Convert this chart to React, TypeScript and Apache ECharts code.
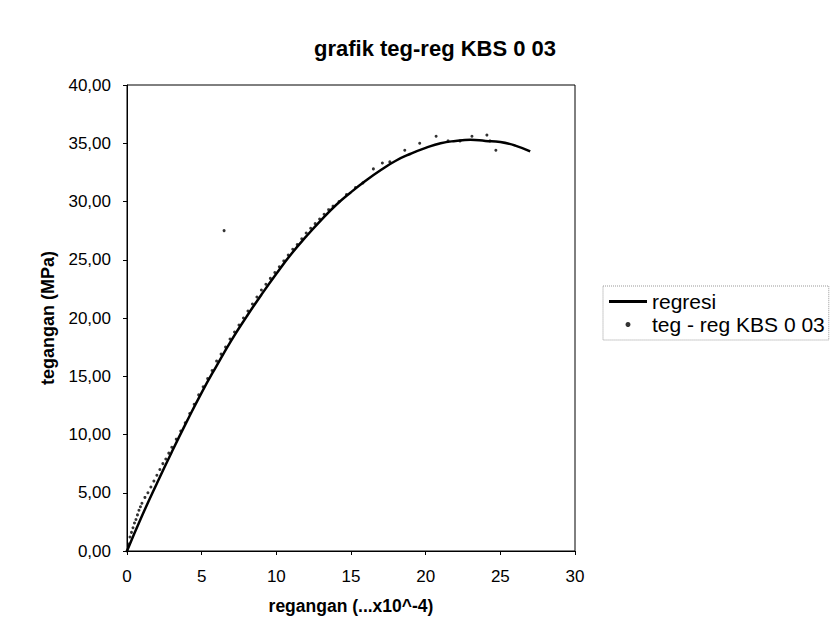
import React, { useEffect, useRef } from "react";
import * as echarts from "echarts";

// regression curve
const regresiX = [0, 1, 2, 3, 4, 5, 6, 7, 8, 9, 10, 11, 12, 13, 14, 15, 16, 17, 18, 19, 20, 21, 22, 23, 24, 25, 26, 27];
const regresiY = [0, 3.0, 5.8, 8.5, 11.1, 13.6, 15.9, 18.1, 20.1, 22.0, 23.8, 25.5, 27.0, 28.4, 29.7, 30.8, 31.8, 32.7, 33.5, 34.1, 34.6, 35.0, 35.2, 35.3, 35.2, 35.1, 34.8, 34.3];

const tegX = [0.0, 0.1, 0.2, 0.3, 0.4, 0.5, 0.6, 0.7, 0.8, 0.9, 1.0, 1.2, 1.4, 1.6, 1.8, 2.0, 2.2, 2.4, 2.6, 2.8, 3.0, 3.3, 3.6, 3.9, 4.2, 4.5, 4.8, 5.1, 5.4, 5.7, 6.0, 6.3, 6.6, 6.9, 7.2, 7.5, 7.8, 8.1, 8.4, 8.7, 9.0, 9.3, 9.6, 9.9, 10.2, 10.5, 10.8, 11.1, 11.4, 11.7, 12.0, 12.3, 12.6, 12.9, 13.2, 13.5, 13.8, 14.2, 14.7, 15.3, 15.8, 16.5, 17.1, 17.6, 18.6, 19.6, 20.7, 21.5, 22.3, 23.1, 24.1, 24.3, 24.7, 6.5];
const tegY = [0.0, 0.6, 1.2, 1.6, 2.0, 2.4, 2.7, 3.1, 3.5, 3.8, 4.1, 4.6, 5.0, 5.5, 6.0, 6.5, 7.0, 7.5, 7.9, 8.4, 8.9, 9.6, 10.3, 11.0, 11.8, 12.6, 13.4, 14.1, 14.8, 15.5, 16.3, 16.9, 17.5, 18.2, 18.8, 19.4, 20.0, 20.6, 21.2, 21.8, 22.4, 22.9, 23.4, 23.9, 24.4, 24.9, 25.4, 25.9, 26.3, 26.8, 27.3, 27.7, 28.1, 28.5, 28.9, 29.3, 29.6, 30.0, 30.6, 31.2, 31.6, 32.8, 33.3, 33.4, 34.4, 35.0, 35.6, 35.2, 35.2, 35.6, 35.7, 35.2, 34.4, 27.5];

const FONT = "'Liberation Sans', Arial, sans-serif";

export default function App() {
  const ref = useRef<HTMLDivElement>(null);
  useEffect(() => {
    if (!ref.current) return;
    const chart = echarts.init(ref.current, null, { renderer: "svg" });
    chart.setOption({
      animation: false,
      backgroundColor: "#fff",
      textStyle: { fontFamily: FONT, color: "#000" },
      title: {
        text: "grafik teg-reg KBS 0 03",
        left: 309,
        top: 32,
        textStyle: { fontFamily: FONT, fontSize: 22, fontWeight: "bold", color: "#000" },
      },
      legend: {
        orient: "vertical",
        left: 603,
        top: 286,
        padding: [5, 4, 5, 6],
        itemWidth: 38,
        itemHeight: 5,
        itemGap: 2,
        borderColor: "#999",
        borderWidth: 1,
        borderType: "dotted",
        textStyle: { fontFamily: FONT, fontSize: 21, color: "#000" },
        data: [
          { name: "regresi", icon: "path://M0,0L38,0L38,3L0,3Z" },
          { name: "teg - reg KBS 0 03", icon: "circle" },
        ],
      },
      grid: {
        left: 127,
        right: 263,
        top: 85,
        bottom: 75,
        show: true,
        borderColor: "#000",
        borderWidth: 1,
        backgroundColor: "#fff",
      },
      xAxis: {
        type: "value",
        min: 0,
        max: 30,
        interval: 5,
        name: "regangan (...x10^-4)",
        nameLocation: "middle",
        nameGap: 46,
        nameTextStyle: { fontFamily: FONT, fontSize: 17.5, fontWeight: "bold", color: "#000" },
        axisLine: { show: true, lineStyle: { color: "#000", width: 1 } },
        axisTick: { show: true, length: 4, lineStyle: { color: "#000" } },
        axisLabel: { margin: 17, fontFamily: FONT, fontSize: 17, color: "#000" },
        splitLine: { show: false },
      },
      yAxis: {
        type: "value",
        min: 0,
        max: 40,
        interval: 5,
        name: "tegangan (MPa)",
        nameLocation: "middle",
        nameGap: 70,
        nameTextStyle: { fontFamily: FONT, fontSize: 18, fontWeight: "bold", color: "#000" },
        axisLine: { show: true, lineStyle: { color: "#000", width: 1 } },
        axisTick: { show: true, length: 4, lineStyle: { color: "#000" } },
        axisLabel: {
          margin: 16,
          fontFamily: FONT,
          fontSize: 17,
          color: "#000",
          formatter: (v: number) => v.toFixed(2).replace(".", ","),
        },
        splitLine: { show: false },
      },
      series: [
        {
          name: "regresi",
          type: "line",
          data: regresiX.map((x, i) => [x, regresiY[i]]),
          smooth: true,
          symbol: "none",
          lineStyle: { color: "#000", width: 2.5 },
          itemStyle: { color: "#000" },
          z: 3,
        },
        {
          name: "teg - reg KBS 0 03",
          type: "scatter",
          data: tegX.map((x, i) => [x, tegY[i]]),
          symbol: "circle",
          symbolSize: 3,
          itemStyle: { color: "#000" },
          z: 4,
        },
      ],
    });
    return () => chart.dispose();
  }, []);
  return (
    <div
      ref={ref}
      style={{ position: "absolute", left: 0, top: 0, width: 838, height: 626 }}
    />
  );
}
